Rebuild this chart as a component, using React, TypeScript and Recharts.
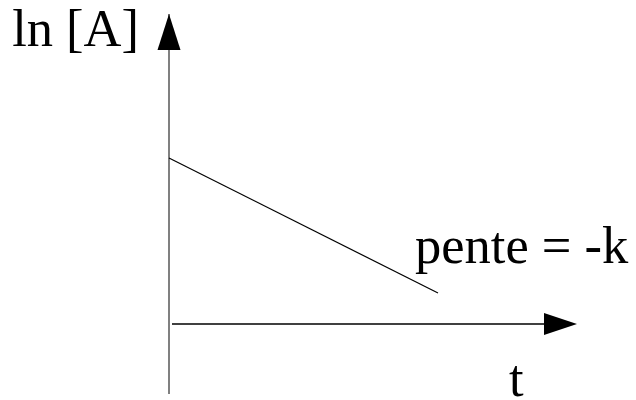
import { LineChart, Line, XAxis, YAxis, ReferenceLine, ReferenceDot } from 'recharts';

// first-order decay: ln[A] falls linearly with t
const times = [0, 26.9];
const lnA = [16.6, 3.1];

const axisLabels = { y: 'ln [A]', x: 't', slope: 'pente = -k' };

const X_MAX = 40.8;
const Y_MIN = -7;
const Y_MAX = 31;

const textStyle = { fontFamily: 'Liberation Serif, serif', fontSize: 52.5, fill: '#000' };

const chartData = times.map((t, i) => ({ t, lnA: lnA[i] }));

type DotProps = { cx?: number; cy?: number };

function UpArrow({ cx = 0, cy = 0 }: DotProps) {
  return (
    <g>
      <polygon points={`${cx},${cy} ${cx - 11.5},${cy + 36} ${cx + 11.5},${cy + 36}`} fill="#000" />
      <text x={cx - 30} y={cy + 32} textAnchor="end" style={textStyle}>
        {axisLabels.y}
      </text>
    </g>
  );
}

function RightArrow({ cx = 0, cy = 0 }: DotProps) {
  return (
    <g>
      <polygon points={`${cx},${cy} ${cx - 33},${cy - 11} ${cx - 33},${cy + 11}`} fill="#000" />
      <text x={cx - 68} y={cy + 72} style={textStyle}>
        {axisLabels.x}
      </text>
    </g>
  );
}

function SlopeLabel({ cx = 0, cy = 0 }: DotProps) {
  return (
    <text x={cx - 23} y={cy - 30} style={textStyle}>
      {axisLabels.slope}
    </text>
  );
}

export default function App() {
  return (
    <div style={{ position: 'absolute', left: 0, top: 0, background: '#fff' }}>
      <LineChart
        width={636}
        height={400}
        data={chartData}
        margin={{ top: 14, right: 59, bottom: 6, left: 169 }}
      >
        <XAxis dataKey="t" type="number" domain={[0, X_MAX]} hide />
        <YAxis type="number" domain={[Y_MIN, Y_MAX]} hide />
        <ReferenceLine x={0} stroke="#808080" strokeWidth={2} />
        <ReferenceLine
          segment={[
            { x: 0.3, y: 0 },
            { x: X_MAX - 3, y: 0 },
          ]}
          stroke="#000"
          strokeWidth={1.5}
        />
        <Line
          type="linear"
          dataKey="lnA"
          stroke="#000"
          strokeWidth={1.2}
          dot={false}
          isAnimationActive={false}
        />
        <ReferenceDot x={0} y={Y_MAX} r={0} shape={(p: DotProps) => <UpArrow {...p} />} />
        <ReferenceDot x={X_MAX} y={0} r={0} shape={(p: DotProps) => <RightArrow {...p} />} />
        <ReferenceDot
          x={times[1]}
          y={lnA[1]}
          r={0}
          shape={(p: DotProps) => <SlopeLabel {...p} />}
        />
      </LineChart>
    </div>
  );
}
